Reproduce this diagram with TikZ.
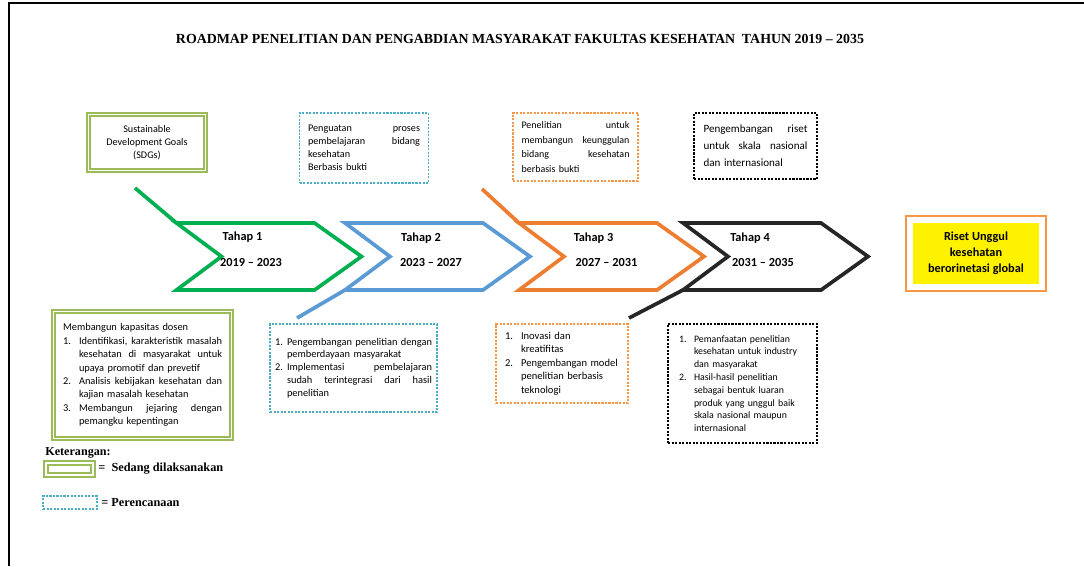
\documentclass[tikz,border=0pt]{standalone}
\usepackage{fontspec}
\setmainfont{Carlito}
\newfontfamily\tnr{Liberation Serif}
\usetikzlibrary{calc}
\definecolor{cgreen}{HTML}{00B050}
\definecolor{cblue}{HTML}{5B9BD5}
\definecolor{corange}{HTML}{ED7D31}
\definecolor{cblack}{HTML}{262626}
\definecolor{sdgreen}{HTML}{9BBB59}
\definecolor{dashblue}{HTML}{4BACC6}
\definecolor{dashorange}{HTML}{F79646}
\newlength\bind
\newcommand{\jl}[1]{\leavevmode\hbox to \linewidth{#1}}
\newcommand{\bline}[2]{\leavevmode\hbox to \linewidth{\hbox to \bind{#1\hss}#2}}
\tikzset{
  every picture/.style={line join=miter},
  chev/.style={line width=2.1pt},
  done/.style={draw=sdgreen, line width=1pt, double=white, double distance=0.6pt},
  plan/.style={draw=dashblue, line width=0.6pt, dash pattern=on 1.2pt off 0.8pt},
  planor/.style={plan, draw=dashorange},
  planbk/.style={plan, draw=black},
  boxtxt/.style={font=\fontsize{5.8}{7.4}\selectfont, align=left, inner sep=2pt},
  numind/.style={execute at begin node=\setlength\bind{#1}},
  legend/.style={font=\tnr\bfseries\fontsize{7}{9}\selectfont, inner sep=0pt, anchor=west},
  stage/.style={font=\bfseries\fontsize{7}{8.4}\selectfont, inner sep=0pt}
}
\begin{document}
\begin{tikzpicture}[x=0.02cm, y=-0.02cm]
  \useasboundingbox (0,0) rectangle (1084,566);
  \draw[line width=1.1pt] (9,566) -- (9,3) -- (1084,3);
  \node[font=\tnr\bfseries\fontsize{7.9}{10}\selectfont, inner sep=0pt] (title) at (520,39)
    {ROADMAP PENELITIAN DAN PENGABDIAN MASYARAKAT FAKULTAS KESEHATAN\ \ TAHUN 2019 – 2035};

  \foreach \x/\c/\i in {176.5/cgreen/1, 345/cblue/2, 519/corange/3, 683/cblack/4}
    \draw[chev, draw=\c] (\x,223) coordinate (tl\i) -- (\x+138,223) -- (\x+185,256.5) coordinate (tip\i)
      -- (\x+138,290) -- (\x,290) coordinate (bl\i) -- (\x+45,256.5) coordinate (n\i) -- cycle;
  \coordinate (e1) at (135,188);
  \coordinate (e2) at (297,318);
  \coordinate (e3) at (482,189);
  \coordinate (e4) at (629,318);
  \draw[chev, cgreen] (tl1) -- (e1);
  \draw[chev, cblue] (bl2) -- (e2);
  \draw[chev, corange] (tl3) -- (e3);
  \draw[chev, cblack] (bl4) -- (e4);

  \node[stage] (s1) at (242.5,237) {Tahap 1};
  \node[stage] (y1) at (251,262) {2019 – 2023};
  \node[stage] (s2) at (421,238) {Tahap 2};
  \node[stage] (y2) at (431,262) {2023 – 2027};
  \node[stage] (s3) at (593.5,238) {Tahap 3};
  \node[stage] (y3) at (606.5,262) {2027 – 2031};
  \node[stage] (s4) at (750,238) {Tahap 4};
  \node[stage] (y4) at (763,262) {2031 – 2035};

  \node[done, boxtxt, align=center, minimum width=2.34cm, minimum height=1.12cm] (sdg) at (147,142.5)
    {Sustainable\\Development Goals\\(SDGs)};
  \node[plan, boxtxt, text width=2.24cm, minimum width=2.58cm, minimum height=1.4cm] (p1) at (364,148)
    {\jl{Penguatan\hfill proses}\\ \jl{pembelajaran\hfill bidang}\\ kesehatan\\ Berbasis bukti};
  \node[planor, boxtxt, font=\fontsize{5.7}{8.2}\selectfont, text width=2.16cm, minimum width=2.5cm,
    minimum height=1.36cm] (p2) at (575.5,147)
    {\jl{Penelitian\hfill untuk}\\ \jl{membangun\hfill keunggulan}\\ \jl{bidang\hfill kesehatan}\\ berbasis bukti};
  \node[planbk, boxtxt, font=\fontsize{6.3}{9.6}\selectfont, text width=2.08cm, minimum width=2.46cm,
    minimum height=1.32cm] (p3) at (755.5,146)
    {\jl{Pengembangan\hfill riset}\\ \jl{untuk\hfill skala\hfill nasional}\\ dan internasional};

  \node[done, boxtxt, numind=0.32cm, font=\fontsize{5.9}{7.6}\selectfont, text width=3.18cm,
    minimum width=3.56cm, minimum height=2.54cm] (k1) at (142.5,375)
    {Membangun kapasitas dosen\\
     \bline{1.}{Identifikasi,\hfill karakteristik\hfill masalah}\\
     \bline{}{kesehatan\hfill di\hfill masyarakat\hfill untuk}\\
     \bline{}{upaya promotif dan prevetif\hfill}\\
     \bline{2.}{Analisis\hfill kebijakan\hfill kesehatan\hfill dan}\\
     \bline{}{kajian masalah kesehatan\hfill}\\
     \bline{3.}{Membangun\hfill jejaring\hfill dengan}\\
     \bline{}{pemangku kepentingan\hfill}};
  \node[plan, boxtxt, numind=0.24cm, font=\fontsize{5.9}{7.3}\selectfont, text width=3.14cm,
    minimum width=3.34cm, minimum height=1.76cm] (k2) at (353.5,368)
    {\bline{1.}{Pengembangan\hfill penelitian\hfill dengan}\\
     \bline{}{pemberdayaan masyarakat\hfill}\\
     \bline{2.}{Implementasi\hfill pembelajaran}\\
     \bline{}{sudah\hfill terintegrasi\hfill dari\hfill hasil}\\
     \bline{}{penelitian\hfill}};
  \node[planor, boxtxt, numind=0.32cm, font=\fontsize{6}{7.7}\selectfont, text width=2.28cm,
    minimum width=2.64cm, minimum height=1.58cm] (k3) at (562,363.5)
    {\bline{1.}{Inovasi dan\hfill}\\
     \bline{}{kreatifitas\hfill}\\
     \bline{2.}{Pengembangan model\hfill}\\
     \bline{}{penelitian berbasis\hfill}\\
     \bline{}{teknologi\hfill}};
  \node[planbk, boxtxt, numind=0.3cm, font=\fontsize{5.6}{7.3}\selectfont, text width=2.54cm,
    minimum width=2.98cm, minimum height=2.38cm] (k4) at (742.5,383.5)
    {\bline{1.}{Pemanfaatan penelitian\hfill}\\
     \bline{}{kesehatan untuk industry\hfill}\\
     \bline{}{dan masyarakat\hfill}\\
     \bline{2.}{Hasil-hasil penelitian\hfill}\\
     \bline{}{sebagai bentuk luaran\hfill}\\
     \bline{}{produk yang unggul baik\hfill}\\
     \bline{}{skala nasional maupun\hfill}\\
     \bline{}{internasional\hfill}};

  \node[fill=yellow, font=\bfseries\fontsize{7}{9.2}\selectfont, align=center, minimum width=2.52cm,
    minimum height=1.22cm, inner sep=1pt] (goal) at (976,253.5)
    {Riset Unggul\\kesehatan\\berorinetasi global};
  \draw[dashorange, line width=1.2pt] ($(goal.south west)+(-7,7)$) rectangle ($(goal.north east)+(7,-7)$);

  \node[legend, font=\tnr\bfseries\fontsize{6.9}{8}\selectfont] (ket) at (45,453) {Keterangan:};
  \node[done, line width=1.2pt, minimum width=0.94cm, minimum height=0.24cm, inner sep=0pt] (lg1) at (69.5,469) {};
  \node[legend] (lt1) at (98,469) {=\ \ Sedang dilaksanakan};
  \node[plan, minimum width=1.08cm, minimum height=0.26cm, inner sep=0pt] (lg2) at (70,502.5) {};
  \node[legend] (lt2) at (101,503) {= Perencanaan};
\end{tikzpicture}
\end{document}
